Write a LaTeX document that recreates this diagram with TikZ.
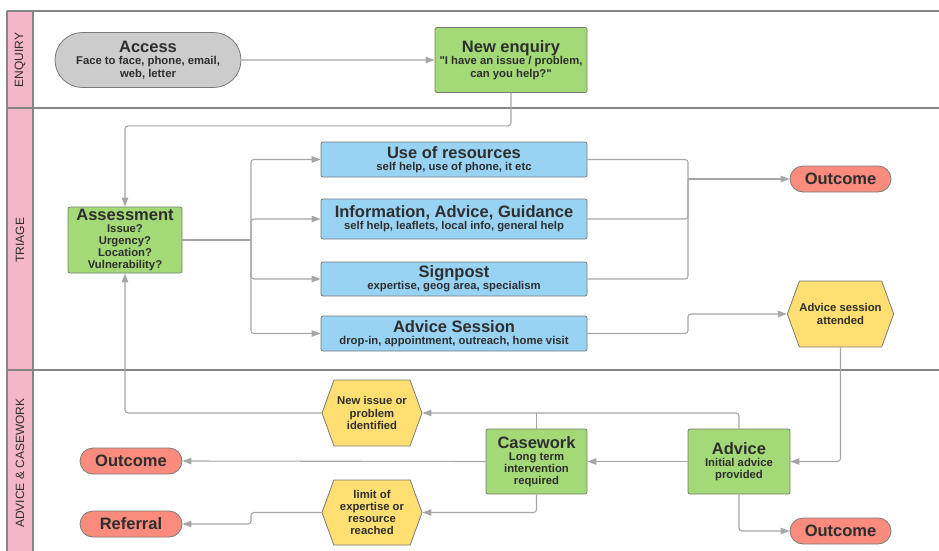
\documentclass[tikz,border=0pt]{standalone}
\usepackage{fontspec}
\setmainfont{Liberation Sans}[Ligatures=TeXOff]
\usetikzlibrary{positioning,calc}
\usetikzlibrary{arrows.meta}
\usetikzlibrary{shapes.symbols,shapes.misc}

\definecolor{lanepink}{HTML}{F4B6C9}
\definecolor{laneline}{HTML}{858585}
\definecolor{boxline}{HTML}{7A7A7A}
\definecolor{linkgray}{HTML}{A6A6A6}
\definecolor{txt}{HTML}{2E2E2E}
\definecolor{boxgray}{HTML}{CCCCCC}
\definecolor{boxgreen}{HTML}{A3D977}
\definecolor{boxblue}{HTML}{99D3F3}
\definecolor{boxred}{HTML}{FB8B7C}
\definecolor{boxyellow}{HTML}{FFDF71}

\newcommand{\boxtitle}[1]{{\fontsize{16.5}{18}\selectfont #1}}

\begin{document}
\begin{tikzpicture}[x=1pt,y=-1pt,
         lane/.style = {draw=laneline, line width=1.2pt},
         lanelabel/.style = {rotate=90, text=txt, font=\fontsize{12}{13}\selectfont},
         box/.style = {draw=boxline, line width=0.8pt, align=center, text=txt,
         inner sep=0pt, font=\fontsize{11.3}{12.2}\selectfont\bfseries},
         action/.style = {box, rounded corners=2pt, fill=boxgreen},
         option/.style = {box, rounded corners=2pt, fill=boxblue,
         minimum width=266pt},
         terminal/.style = {box, rounded rectangle, fill=boxred,
         minimum width=101pt, minimum height=26pt},
         decision/.style = {box, signal, signal to=west and east,
         signal pointer angle=140, fill=boxyellow,
         minimum width=100pt, minimum height=66pt},
         link/.style = {draw=linkgray, line width=1.1pt, rounded corners=3pt,
         -{Triangle[length=9pt,width=6.5pt]}},
         line/.style = {draw=linkgray, line width=1.1pt, rounded corners=3pt}
]

   \useasboundingbox (0,0) rectangle (939,551);

   % swim lanes
   \fill[lanepink] (7,11) rectangle (33,551);
   \draw[lane] (7,11) -- (939,11);
   \draw[lane] (7,108) -- (939,108);
   \draw[lane] (7,370) -- (939,370);
   \draw[lane] (7,11) -- (7,551);
   \draw[lane] (33,11) -- (33,551);

   \node[lanelabel] (enquiry)  at (20,60)  {ENQUIRY};
   \node[lanelabel] (triage)   at (20,240) {TRIAGE};
   \node[lanelabel] (casework lane) at (20,463) {ADVICE \& CASEWORK};

   % enquiry
   \node[box, rounded rectangle, fill=boxgray, minimum width=186pt,
   minimum height=55pt] (access) at (148,60)
   {\boxtitle{Access}\\Face to face, phone, email,\\web, letter};
   \node[action, minimum width=152pt, minimum height=65pt] (newenq) at (511,60)
   {\boxtitle{New enquiry}\\"I have an issue / problem,\\can you help?"};

   % triage
   \node[action, minimum width=114pt, minimum height=66pt] (assess) at (125,240)
   {\boxtitle{Assessment}\\Issue?\\Urgency?\\Location?\\Vulnerability?};

   \node[option, minimum height=35pt] (resources) at (454,159.5)
   {\boxtitle{Use of resources}\\self help, use of phone, it etc};
   \node[option, minimum height=40pt] (iag) at (454,219)
   {\boxtitle{Information, Advice, Guidance}\\self help, leaflets, local info, general help};
   \node[option, minimum height=34pt] (signpost) at (454,279)
   {\boxtitle{Signpost}\\expertise, geog area, specialism};
   \node[option, minimum height=35pt] (advsess) at (454,333.5)
   {\boxtitle{Advice Session}\\drop-in, appointment, outreach, home visit};

   \node[terminal] (outc1) at (840.5,179) {\boxtitle{Outcome}};
   \node[decision] (attended) at (840.5,314)
   {Advice session\\attended};

   % advice and casework
   \node[action, minimum width=102pt, minimum height=65pt] (advice) at (739,461.5)
   {\boxtitle{Advice}\\Initial advice\\provided};
   \node[action, minimum width=101pt, minimum height=65pt] (casework) at (536.5,461.5)
   {\boxtitle{Casework}\\Long term\\intervention\\required};

   \node[decision] (newissue) at (372,413) {New issue or\\problem\\identified};
   \node[decision, minimum height=65pt] (limit) at (372,512.5)
   {limit of\\expertise or\\resource\\reached};

   \node[terminal, minimum width=102pt] (outc2) at (131,461) {\boxtitle{Outcome}};
   \node[terminal, minimum width=102pt] (referral) at (131,524) {\boxtitle{Referral}};
   \node[terminal] (outc3) at (840.5,531) {\boxtitle{Outcome}};

   \coordinate (bus)   at (251,240);
   \coordinate (merge) at (688,179);

   % connectors
   \draw[link] (access) -- (newenq);
   \draw[link] (newenq.south) -- ++(0,33) -| (assess.north);

   \draw[line] (assess.east) -- (bus);
   \draw[link] (bus) |- (resources.west);
   \draw[link] (bus) |- (iag.west);
   \draw[link] (bus) |- (signpost.west);
   \draw[link] (bus) |- (advsess.west);

   \draw[line] (resources.east) -| (merge);
   \draw[line] (iag.east) -| (merge);
   \draw[line] (signpost.east) -| (merge);
   \draw[link] (merge) -- (outc1);
   \draw[link] (advsess.east) -- (advsess.east -| merge) |- (attended.west);

   \draw[link] (attended.south) |- (advice.east);
   \draw[link] (advice.west) -- (casework.east);
   \draw[link] (advice.north) |- (newissue.east);
   \draw[line] (casework.north) -- (casework.north |- newissue.east);
   \draw[link] (newissue.west) -| (assess.south);
   \draw[link] (casework.west) -- (outc2.east);
   \draw[link] (casework.south) |- (limit.east);
   \draw[link] (limit.west) -- (limit.west -| bus) |- (referral.east);
   \draw[link] (advice.south) |- (outc3.west);

\end{tikzpicture}
\end{document}
